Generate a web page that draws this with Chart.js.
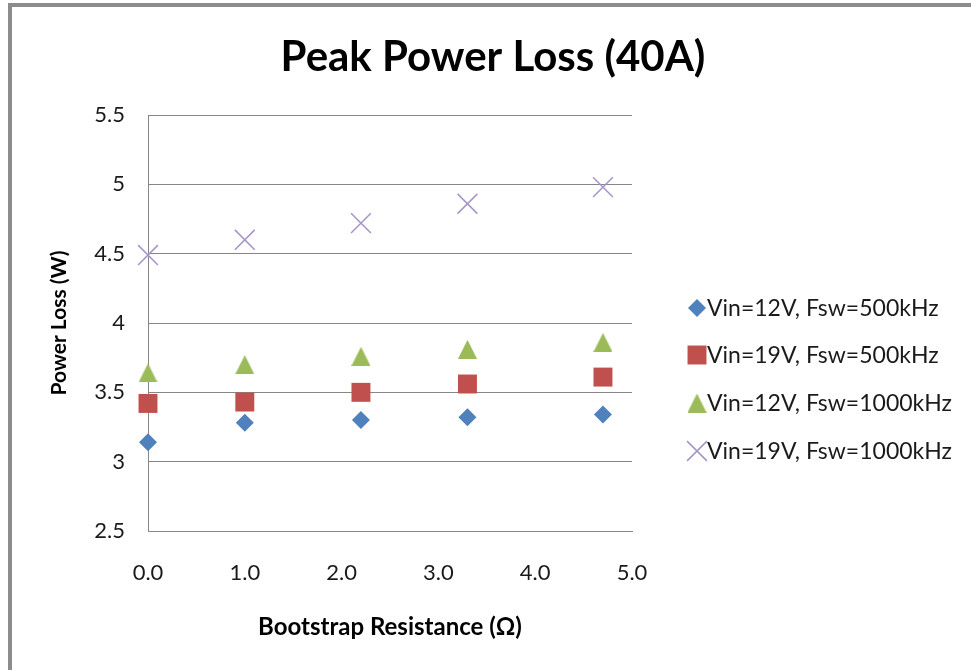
<!DOCTYPE html>
<html>
<head>
<meta charset="utf-8">
<title>Peak Power Loss (40A)</title>
<script src="https://cdn.jsdelivr.net/npm/chart.js@4.4.0/dist/chart.umd.min.js"></script>
<style>
    html, body { margin: 0; padding: 0; background: #fff; }
    canvas { display: block; }
</style>
</head>
<body>
<canvas id="chart-perdidas" width="971" height="670"></canvas>
<script>
// ==================== DATOS ====================
const resistencias = [0.0, 1.0, 2.2, 3.3, 4.7];
const vin12_500k = [3.14, 3.28, 3.30, 3.32, 3.34];
const vin19_500k = [3.42, 3.43, 3.50, 3.56, 3.61];
const vin12_1000k = [3.64, 3.70, 3.76, 3.81, 3.86];
const vin19_1000k = [4.49, 4.60, 4.72, 4.86, 4.98];
const etiquetasSerie = ['Vin=12V, Fsw=500kHz', 'Vin=19V, Fsw=500kHz', 'Vin=12V, Fsw=1000kHz', 'Vin=19V, Fsw=1000kHz'];
const ticksX = [0, 1, 2, 3, 4, 5];
const ticksY = [2.5, 3, 3.5, 4, 4.5, 5, 5.5];

const FUENTE = 'Lato, "Open Sans", sans-serif';
const GRIS = '#868686';

// triángulo estilo Excel (centrado por su caja, no por el baricentro)
function crearTriangulo(w, h, color) {
    const c = document.createElement('canvas');
    c.width = w; c.height = h;
    const g = c.getContext('2d');
    g.fillStyle = color;
    g.beginPath();
    g.moveTo(w / 2, 0);
    g.lineTo(w, h);
    g.lineTo(0, h);
    g.closePath();
    g.fill();
    return c;
}
const trianguloVerde = crearTriangulo(19, 19, '#9BBB59');

function puntos(valores) {
    return resistencias.map((r, i) => ({ x: r, y: valores[i] }));
}

const series = [
    { label: etiquetasSerie[0], data: puntos(vin12_500k), pointStyle: 'rectRot', pointRadius: 9, backgroundColor: '#4F81BD', borderColor: '#4F81BD', pointBorderWidth: 0 },
    { label: etiquetasSerie[1], data: puntos(vin19_500k), pointStyle: 'rect', pointRadius: 13.4, backgroundColor: '#C0504D', borderColor: '#C0504D', pointBorderWidth: 0 },
    { label: etiquetasSerie[2], data: puntos(vin12_1000k), pointStyle: trianguloVerde, pointRadius: 10, backgroundColor: '#9BBB59', borderColor: '#9BBB59', pointBorderWidth: 0 },
    { label: etiquetasSerie[3], data: puntos(vin19_1000k), pointStyle: 'crossRot', pointRadius: 14, backgroundColor: '#A594C7', borderColor: '#A594C7', pointBorderWidth: 1.5 }
];
series.forEach(s => { s.showLine = false; s.clip = false; s.pointHoverRadius = s.pointRadius; });

// ==================== PLUGINS ====================
const marcoYTitulo = {
    id: 'marcoYTitulo',
    beforeDraw(chart) {
        const ctx = chart.ctx;
        ctx.save();
        ctx.fillStyle = '#fff';
        ctx.fillRect(0, 0, chart.width, chart.height);
        ctx.fillStyle = '#8c8c8c';
        ctx.fillRect(8, 3, chart.width - 8, 4);
        ctx.fillRect(8, 3, 4, chart.height - 3);
        ctx.restore();
    },
    afterDraw(chart) {
        const ctx = chart.ctx;
        ctx.save();
        ctx.fillStyle = '#000';
        ctx.font = 'bold 42px ' + FUENTE;
        ctx.textAlign = 'center';
        ctx.textBaseline = 'alphabetic';
        ctx.fillText('Peak Power Loss (40A)', 493, 71);
        ctx.restore();
    }
};

const leyendaDerecha = {
    id: 'leyendaDerecha',
    afterDraw(chart) {
        const ctx = chart.ctx;
        const filas = [308, 355, 403, 451];
        chart.data.datasets.forEach((ds, i) => {
            const y = filas[i];
            ctx.save();
            ctx.fillStyle = ds.backgroundColor;
            ctx.strokeStyle = ds.borderColor;
            ctx.lineWidth = ds.pointBorderWidth;
            Chart.helpers.drawPoint(ctx, {
                pointStyle: ds.pointStyle,
                radius: ds.pointRadius,
                rotation: 0,
                borderWidth: ds.pointBorderWidth
            }, 697, y);
            ctx.fillStyle = '#1a1a1a';
            ctx.font = '23px ' + FUENTE;
            ctx.textAlign = 'left';
            ctx.textBaseline = 'middle';
            ctx.fillText(ds.label, 707, y + 1);
            ctx.restore();
        });
    }
};

// ==================== GRÁFICO ====================
const ctx = document.getElementById('chart-perdidas').getContext('2d');
const perdidasChart = new Chart(ctx, {
    type: 'scatter',
    data: { datasets: series },
    options: {
        responsive: false,
        animation: false,
        devicePixelRatio: 1,
        layout: { padding: { top: 115, right: 339, left: 0, bottom: 0 } },
        plugins: {
            legend: { display: false },
            title: { display: false },
            tooltip: { enabled: false }
        },
        scales: {
            x: {
                type: 'linear',
                min: 0,
                max: 5,
                afterFit: (scale) => { scale.height = 139; },
                afterBuildTicks: (scale) => { scale.ticks = ticksX.map(v => ({ value: v })); },
                grid: { display: false, drawTicks: false },
                border: { display: true, color: GRIS, width: 1 },
                ticks: {
                    padding: 29,
                    color: '#1a1a1a',
                    font: { family: FUENTE, size: 22, lineHeight: 1.2 },
                    callback: (v) => Number(v).toFixed(1)
                },
                title: {
                    display: true,
                    text: 'Bootstrap Resistance (Ω)',
                    color: '#000',
                    font: { family: FUENTE, size: 24, weight: 'bold', lineHeight: 1.2 },
                    padding: { top: 0, bottom: 28 }
                }
            },
            y: {
                type: 'linear',
                min: 2.5,
                max: 5.5,
                afterFit: (scale) => { scale.width = 148; },
                afterBuildTicks: (scale) => { scale.ticks = ticksY.map(v => ({ value: v })); },
                grid: { display: true, color: GRIS, lineWidth: 1, drawTicks: false },
                border: { display: true, color: GRIS, width: 1 },
                ticks: {
                    padding: 23,
                    color: '#1a1a1a',
                    font: { family: FUENTE, size: 22, lineHeight: 1.2 },
                    callback: (v) => String(v)
                },
                title: {
                    display: true,
                    text: 'Power Loss (W)',
                    color: '#000',
                    font: { family: FUENTE, size: 21, weight: 'bold', lineHeight: 1.2 },
                    padding: { top: 47, bottom: 0 }
                }
            }
        }
    },
    plugins: [marcoYTitulo, leyendaDerecha]
});
</script>
</body>
</html>
